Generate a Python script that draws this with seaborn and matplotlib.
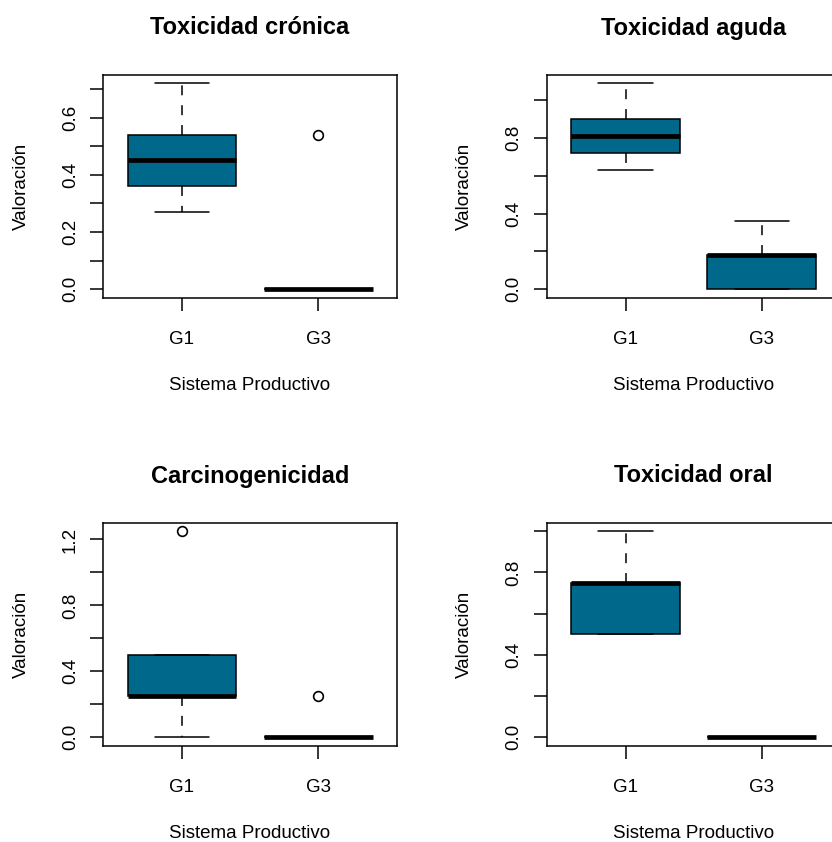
import numpy as np
import pandas as pd
import matplotlib
matplotlib.use("Agg")
import matplotlib.pyplot as plt
import seaborn as sns

# Valoración por sistema productivo, una muestra por grupo y categoría
grupos = ["G1", "G3"]

cronica_g1 = [0.27, 0.36, 0.45, 0.54, 0.72]
cronica_g3 = [0.00, 0.00, 0.00, 0.00, 0.54]

aguda_g1 = [0.63, 0.72, 0.81, 0.90, 1.09]
aguda_g3 = [0.00, 0.00, 0.18, 0.18, 0.36]

carcino_g1 = [0.00, 0.25, 0.25, 0.50, 1.25]
carcino_g3 = [0.00, 0.00, 0.00, 0.00, 0.25]

oral_g1 = [0.50, 0.50, 0.75, 0.75, 1.00]
oral_g3 = [0.00, 0.00, 0.00, 0.00, 0.00]

titulos = ["Toxicidad crónica", "Toxicidad aguda", "Carcinogenicidad", "Toxicidad oral"]

ticks_cronica = [0.0, 0.1, 0.2, 0.3, 0.4, 0.5, 0.6, 0.7]
labels_cronica = ["0.0", "", "0.2", "", "0.4", "", "0.6", ""]
ticks_aguda = [0.0, 0.2, 0.4, 0.6, 0.8, 1.0]
labels_aguda = ["0.0", "", "0.4", "", "0.8", ""]
ticks_carcino = [0.0, 0.2, 0.4, 0.6, 0.8, 1.0, 1.2]
labels_carcino = ["0.0", "", "0.4", "", "0.8", "", "1.2"]
ticks_oral = [0.0, 0.2, 0.4, 0.6, 0.8, 1.0]
labels_oral = ["0.0", "", "0.4", "", "0.8", ""]

paneles = [
    (titulos[0], cronica_g1, cronica_g3, ticks_cronica, labels_cronica),
    (titulos[1], aguda_g1, aguda_g3, ticks_aguda, labels_aguda),
    (titulos[2], carcino_g1, carcino_g3, ticks_carcino, labels_carcino),
    (titulos[3], oral_g1, oral_g3, ticks_oral, labels_oral),
]

sns.set_style("white")
plt.rcParams["font.family"] = ["Liberation Sans", "DejaVu Sans"]
plt.rcParams["text.color"] = "black"

W, H = 832, 842
fig = plt.figure(figsize=(W / 100, H / 100), dpi=100)
fig.patch.set_facecolor("white")

# plot frames in pixels: (left, top) ; all share width/height
ax_w, ax_h = 294.0, 222.5
origins = [(103.0, 75.0), (546.7, 75.0), (103.0, 523.0), (546.7, 523.0)]

relleno = "#00688B"
lw = 1.1

for (titulo, g1, g3, ticks, labels), (x0, y0) in zip(paneles, origins):
    ax = fig.add_axes([x0 / W, 1 - (y0 + ax_h) / H, ax_w / W, ax_h / H])
    df = pd.DataFrame({
        "Sistema": [grupos[0]] * len(g1) + [grupos[1]] * len(g3),
        "Valor": list(g1) + list(g3),
    })
    sns.boxplot(
        data=df, x="Sistema", y="Valor", order=grupos, ax=ax,
        color=relleno, saturation=1, width=0.8, whis=1.5,
        linecolor="black", linewidth=lw,
        medianprops=dict(linewidth=3.4, color="black", solid_capstyle="butt"),
        whiskerprops=dict(linestyle=(0, (6.5, 6.5)), linewidth=lw, color="black"),
        capprops=dict(linewidth=lw, color="black"),
        flierprops=dict(marker="o", markerfacecolor="none", markeredgecolor="black",
                        markersize=7, markeredgewidth=1.2),
    )
    vals = np.array(list(g1) + list(g3))
    lo, hi = vals.min(), vals.max()
    r = hi - lo
    ax.set_ylim(lo - 0.04 * r, hi + 0.04 * r)
    ax.set_xlim(-0.58, 1.58)

    ax.set_yticks(ticks)
    ax.set_yticklabels(labels)
    ax.tick_params(axis="both", direction="out", length=9.4, width=lw, color="black",
                   labelsize=13.5, labelcolor="black", bottom=True, left=True)
    ax.tick_params(axis="y", pad=8, labelrotation=90)
    ax.tick_params(axis="x", pad=14.5)
    for t in ax.get_yticklabels():
        t.set_va("center")
    for s in ax.spines.values():
        s.set_visible(True)
        s.set_color("black")
        s.set_linewidth(lw)

    ax.set_xlabel("")
    ax.set_ylabel("")
    ax.text(0.5, 1 + 47 / ax_h, titulo, transform=ax.transAxes, ha="center", va="center",
            fontsize=17, fontweight="bold", color="black")
    ax.text(0.5, -88 / ax_h, "Sistema Productivo", transform=ax.transAxes,
            ha="center", va="center", fontsize=13.5, color="black")
    ax.text(-82 / ax_w, 0.5, "Valoración", transform=ax.transAxes, rotation=90,
            ha="center", va="center", fontsize=13.5, color="black")

fig.savefig("out.png", dpi=100, facecolor="white")
